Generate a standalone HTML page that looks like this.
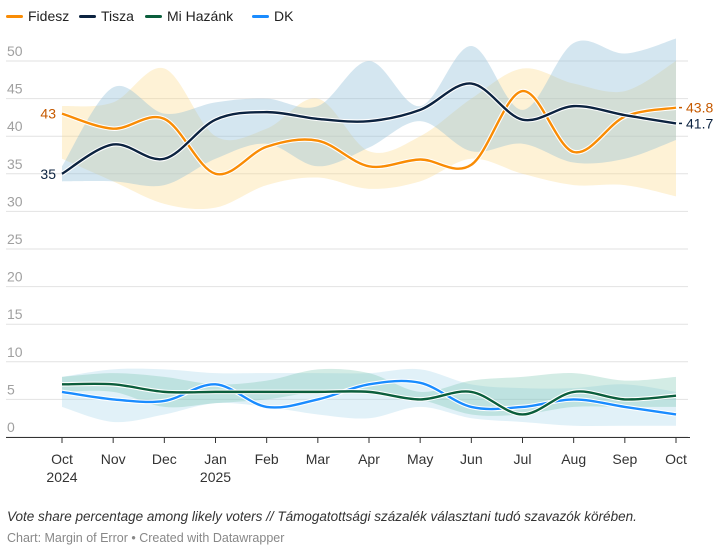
<!DOCTYPE html>
<html><head><meta charset="utf-8"><style>
body{margin:0;background:#fff;font-family:"Liberation Sans",sans-serif;}
#wrap{position:relative;width:720px;height:552px;overflow:hidden}
.leg{position:absolute;top:8px;font-size:14px;color:#222;display:flex;align-items:center}
.leg i{display:inline-block;width:17px;height:3px;margin-right:5px;border-radius:2px}
</style></head><body><div id="wrap">
<div class="leg" style="left:6px"><i style="background:#f98c05"></i>Fidesz</div>
<div class="leg" style="left:79px"><i style="background:#0c2340"></i>Tisza</div>
<div class="leg" style="left:145px"><i style="background:#0b5e3c"></i>Mi Hazánk</div>
<div class="leg" style="left:252px"><i style="background:#1a8cff"></i>DK</div>
<svg id="svg" width="720" height="552" style="position:absolute;left:0;top:0"></svg>
<div style="position:absolute;left:7px;top:509px;font-size:13.5px;font-style:italic;color:#333">Vote share percentage among likely voters // Támogatottsági százalék választani tudó szavazók körében.</div>
<div style="position:absolute;left:7px;top:531px;font-size:12.5px;color:#888">Chart: Margin of Error • Created with Datawrapper</div>
</div>
<script>
const months=["Oct","Nov","Dec","Jan","Feb","Mar","Apr","May","Jun","Jul","Aug","Sep","Oct"];
const years=["2024","","","2025","","","","","","","","",""];
const yTicks=[0,5,10,15,20,25,30,35,40,45,50];
const fidesz=[43,41,42.3,35,38.6,39.4,36,36.9,36.2,46,37.9,42.6,43.8];
const fideszLo=[37,34,31,30.5,33.5,34.5,33,34,37,35,33.5,33.5,32];
const fideszHi=[44,44.5,49,40,41,45,38,40,45,49,47,46,50];
const tisza=[35,38.9,37,42.2,43.2,42.3,42,43.5,47,42.2,44,42.8,41.7];
const tiszaLo=[34,34,33.5,37,39,36,38.5,42,38,39,36.5,37,39.5];
const tiszaHi=[36,46.5,43,44.5,45,44,50,44,52,43.5,52.4,51,53];
const mi=[7,7,6,6,6,6,6,5,6,3,6,5,5.5];
const miLo=[6,6,4,4.5,5,6,6,5,3,3,4,4,4];
const miHi=[8,8.5,8,7,7.5,9,8.5,6,7.5,8,8.5,7.5,8];
const dk=[6,5,4.8,7,4,5,7,7.2,4,4,5,4,3];
const dkLo=[4,2,3,4.5,4,3,2.5,4,2.5,2,1.5,1.5,1.5];
const dkHi=[8,9,9,8.5,8.5,8.5,8.5,9,7,6.5,6.5,7,6];
const NS="http://www.w3.org/2000/svg";
const svg=document.getElementById('svg');
const X=i=>62+i*(676-62)/12;
const Y=v=>437-v*7.52;
function mk(t,a){const e=document.createElementNS(NS,t);for(const k in a)e.setAttribute(k,a[k]);svg.appendChild(e);return e;}
function curve(pts){let d="";for(let i=0;i<pts.length-1;i++){const p0=pts[Math.max(0,i-1)],p1=pts[i],p2=pts[i+1],p3=pts[Math.min(pts.length-1,i+2)];
const c1=[p1[0]+(p2[0]-p0[0])/6,p1[1]+(p2[1]-p0[1])/6],c2=[p2[0]-(p3[0]-p1[0])/6,p2[1]-(p3[1]-p1[1])/6];
d+=(i?"":"M"+p1[0]+","+p1[1])+"C"+c1+" "+c2+" "+p2;}return d;}
const P=a=>a.map((v,i)=>[X(i),Y(v)]);
yTicks.forEach(t=>{const g=mk('line',{x1:6,x2:688,y1:Y(t),y2:Y(t),stroke:'#e2e2e2','stroke-width':1});

const l=mk('text',{x:7,y:Y(t)-5,'font-size':14,fill:'#a0a0a0','font-family':'Liberation Sans'});l.textContent=t;
});
function band(lo,hi,col,op,name){const up=P(hi),dn=P(lo).reverse();
const d=curve(up)+"L"+dn[0]+curve(dn).replace(/^M[^C]*/,"")+"Z";
const e=mk('path',{d:d,fill:col,'fill-opacity':op});}
band(fideszLo,fideszHi,'#fcd98a',0.35,'fidesz-band');
band(tiszaLo,tiszaHi,'#8fbdd8',0.38,'tisza-band');
band(dkLo,dkHi,'#a9d8ec',0.35,'dk-band');
band(miLo,miHi,'#6cbfa8',0.3,'mi-hazank-band');
function line(a,col,name){mk('path',{d:curve(P(a)),fill:'none',stroke:'#fff','stroke-width':4.5});
const e=mk('path',{d:curve(P(a)),fill:'none',stroke:col,'stroke-width':2.4});}
line(dk,'#1a8cff','dk-line');line(mi,'#0b5e3c','mi-hazank-line');line(fidesz,'#f98c05','fidesz-line');line(tisza,'#0c2340','tisza-line');
mk('line',{x1:6,x2:690,y1:437.5,y2:437.5,stroke:'#333','stroke-width':1});
months.forEach((m,i)=>{mk('line',{x1:X(i),x2:X(i),y1:437,y2:443,stroke:'#333'});
const t=mk('text',{x:X(i),y:464,'text-anchor':'middle','font-size':14,fill:'#333','font-family':'Liberation Sans'});t.textContent=m;

if(years[i]){const y=mk('text',{x:X(i),y:482,'text-anchor':'middle','font-size':14,fill:'#333','font-family':'Liberation Sans'});y.textContent=years[i];
}});
function lab(x,v,txt,col,anchor,name){const t=mk('text',{x:x,y:Y(v)+5,'text-anchor':anchor,'font-size':14,fill:col,'font-family':'Liberation Sans'});t.textContent=txt;
}
lab(56,fidesz[0],fidesz[0],'#c65a00','end','fidesz-start-label');
lab(56,tisza[0],tisza[0],'#0c2340','end','tisza-start-label');
mk('line',{x1:679,x2:682,y1:Y(fidesz[12]),y2:Y(fidesz[12]),stroke:'#c65a00','stroke-width':1.5});
mk('line',{x1:679,x2:682,y1:Y(tisza[12]),y2:Y(tisza[12]),stroke:'#0c2340','stroke-width':1.5});
lab(686,fidesz[12],fidesz[12],'#c65a00','start','fidesz-end-label');
lab(686,tisza[12],tisza[12],'#0c2340','start','tisza-end-label');
</script></body></html>
